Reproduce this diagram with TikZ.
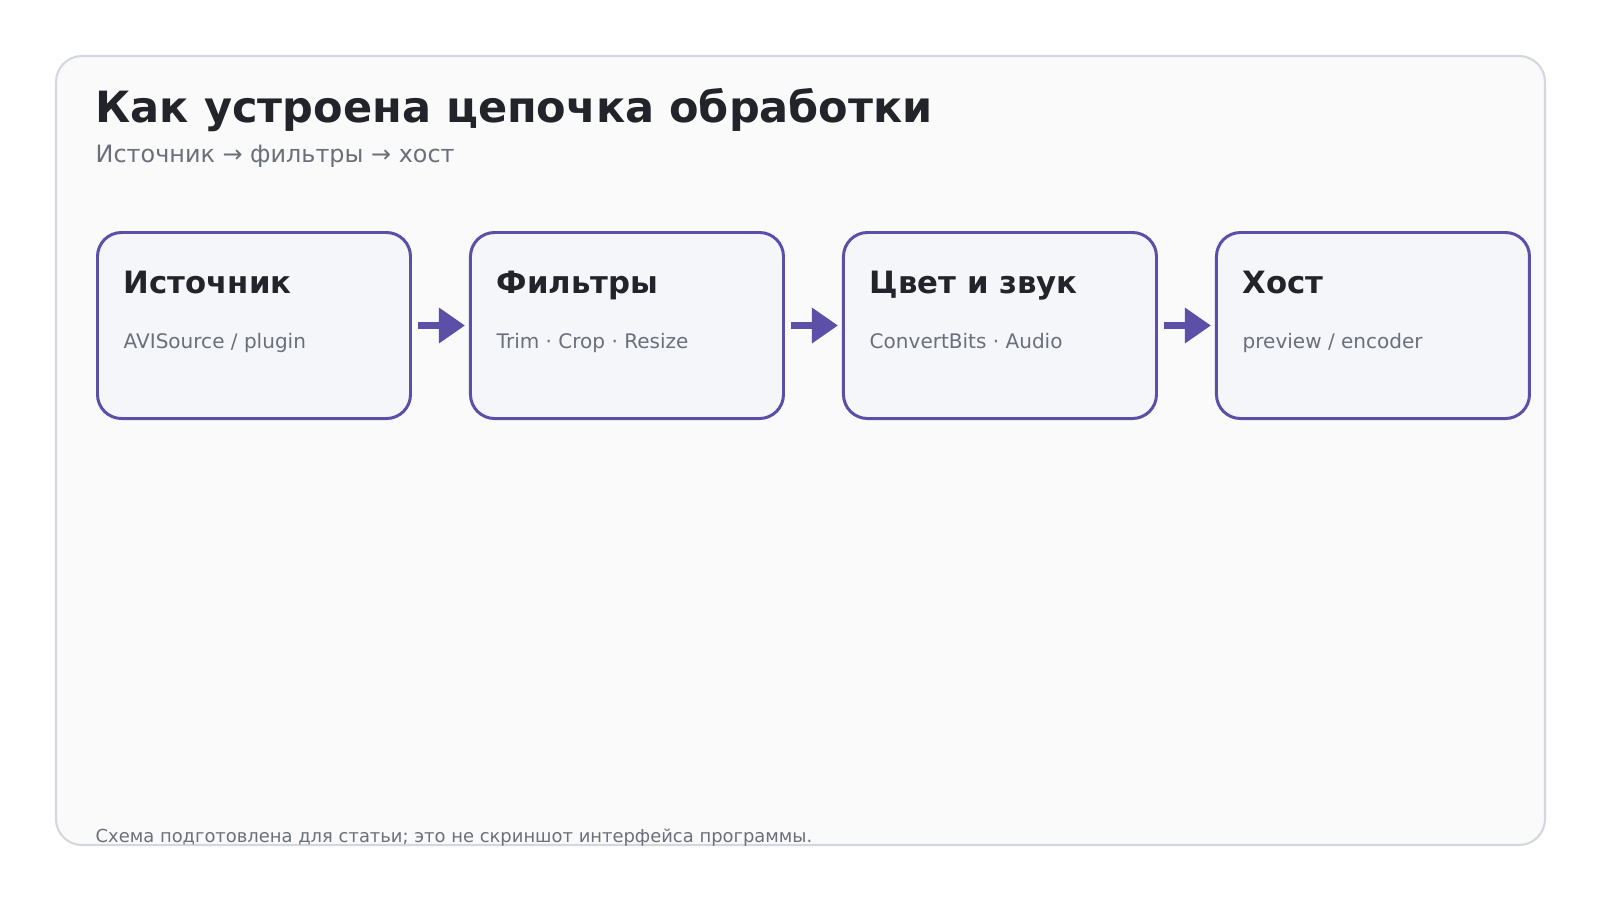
\documentclass[tikz,border=0pt]{standalone}
\usepackage{fontspec}
\setmainfont{DejaVu Sans}
\usetikzlibrary{positioning, arrows.meta, calc}
\definecolor{stage}{HTML}{5B4FA8}
\definecolor{stagefill}{HTML}{F5F6FA}
\definecolor{ink}{HTML}{22242A}
\definecolor{muted}{HTML}{6B6F7A}
\definecolor{frame}{HTML}{D5D7DE}
\definecolor{paper}{HTML}{FAFAFB}
\tikzset{
  box/.style = {draw = stage, fill = stagefill, line width = 0.85pt, rounded corners = 0.24cm,
    minimum width = 3.13cm, minimum height = 1.86cm, inner sep = 0pt},
  head/.style = {anchor = base west, text = ink, font = \fontsize{8.75}{10}\selectfont\bfseries, inner sep = 0pt},
  sub/.style = {anchor = base west, text = muted, font = \fontsize{5.7}{7}\selectfont, inner sep = 0pt},
  flow/.style = {draw = stage, line width = 2pt, -{Triangle[length = 0.26cm, width = 0.34cm]}}
}
\begin{document}
\begin{tikzpicture}[x = 1cm, y = 1cm]
\useasboundingbox (0, 0) rectangle (16, -9);
\fill[white] (0, 0) rectangle (16, -9);
\draw[frame, fill = paper, line width = 0.6pt, rounded corners = 0.26cm] (0.56, -0.56) rectangle (15.45, -8.45);
% title
\node[anchor = base west, text = ink, inner sep = 0pt, font = \fontsize{12.25}{15}\selectfont\bfseries] (title) at (0.95, -1.22) {Как устроена цепочка обработки};
\node[anchor = base west, text = muted, inner sep = 0pt, font = \fontsize{6.8}{8}\selectfont] (subtitle) at (0.95, -1.62) {Источник → фильтры → хост};
% stages
\node[box, anchor = north west] (src) at (0.96, -2.31) {};
\node[box, right = 0.57cm of src] (flt) {};
\node[box, right = 0.57cm of flt] (clr) {};
\node[box, right = 0.57cm of clr] (host) {};
\foreach \n/\t/\s in {src/Источник/{AVISource / plugin}, flt/Фильтры/{Trim · Crop · Resize},
    clr/Цвет и звук/{ConvertBits · Audio}, host/Хост/{preview / encoder}}{
  \node[head] (\n-head) at ($(\n.north west) + (0.27, -0.62)$) {\t};
  \node[sub] (\n-sub) at ($(\n.north west) + (0.27, -1.17)$) {\s};
}
\draw[flow, shorten < = 0.06cm, shorten > = 0.04cm] (src) -- (flt);
\draw[flow, shorten < = 0.06cm, shorten > = 0.04cm] (flt) -- (clr);
\draw[flow, shorten < = 0.06cm, shorten > = 0.04cm] (clr) -- (host);
% footer
\node[anchor = base west, text = muted, inner sep = 0pt, font = \fontsize{5.1}{6}\selectfont] (note) at (0.95, -8.42) {Схема подготовлена для статьи; это не скриншот интерфейса программы.};
\end{tikzpicture}
\end{document}
